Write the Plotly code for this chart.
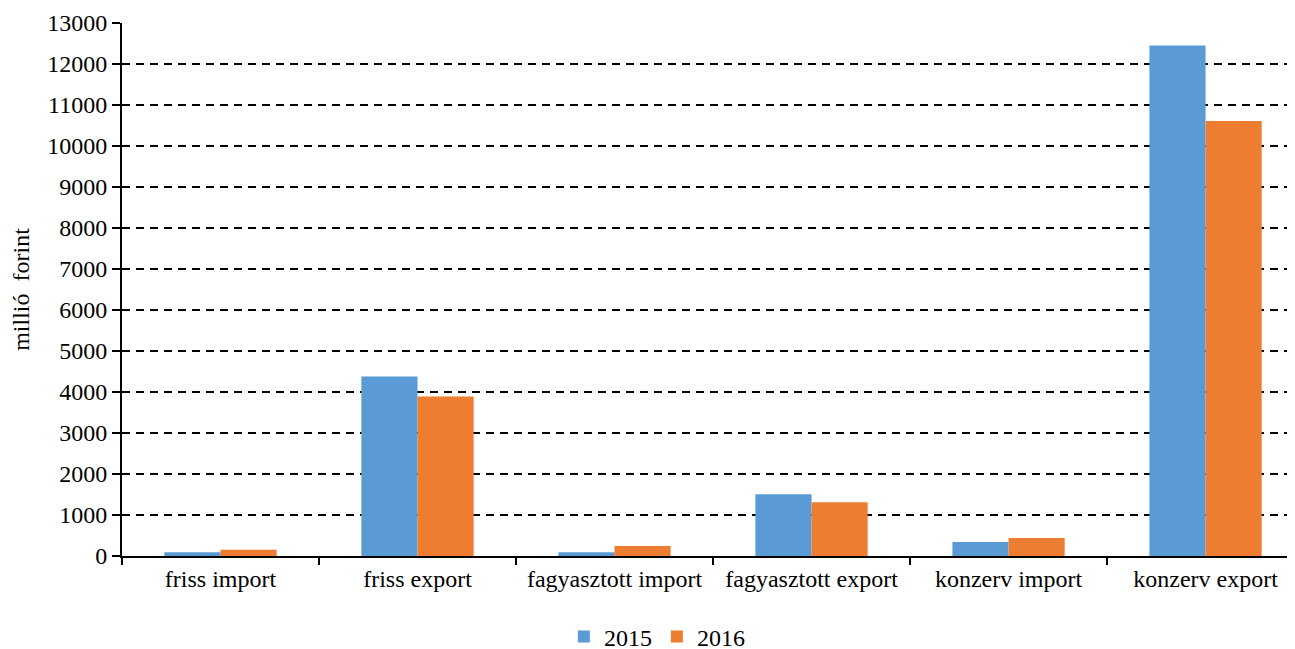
import plotly.graph_objects as go

categories = ["friss import", "friss export", "fagyasztott import",
              "fagyasztott export", "konzerv import", "konzerv export"]
values_2015 = [90, 4380, 90, 1505, 340, 12450]
values_2016 = [150, 3890, 245, 1310, 440, 10610]
y_ticks = list(range(0, 13001, 1000))

FONT = "Liberation Serif"

fig = go.Figure()
fig.add_trace(go.Bar(name="2015", x=categories, y=values_2015,
                     marker=dict(color="#5B9BD5", line=dict(width=0))))
fig.add_trace(go.Bar(name="2016", x=categories, y=values_2016,
                     marker=dict(color="#ED7D31", line=dict(width=0))))

fig.update_layout(
    width=1295, height=649,
    margin=dict(l=114, r=8, t=15, b=101, autoexpand=False),
    paper_bgcolor="white", plot_bgcolor="white",
    barmode="group", bargap=0.43, bargroupgap=0,
    font=dict(family=FONT, size=24, color="black"),
    legend=dict(orientation="h", x=0.456, xanchor="center",
                y=-0.152, yanchor="middle",
                font=dict(size=24), itemwidth=30, traceorder="normal"),
    showlegend=True,
)
fig.update_xaxes(
    type="category", range=[-0.5, 5.454], automargin=False,
    showline=True, linecolor="black", linewidth=2,
    ticks="outside", tickson="boundaries", ticklen=7, tickwidth=2, tickcolor="black",
    showgrid=False, zeroline=False,
    tickfont=dict(size=24),
)
fig.update_yaxes(
    range=[0, 13000], tickvals=y_ticks, tickformat="d", automargin=False,
    showline=True, linecolor="black", linewidth=2,
    ticks="outside", ticklen=8, tickwidth=2, tickcolor="black",
    showgrid=True, gridcolor="black", gridwidth=2, griddash="8px,6px",
    zeroline=False,
    tickfont=dict(size=24),
    title=dict(text="millió\u00a0 forint", font=dict(size=24), standoff=14),
)
fig.write_html("out.html")
